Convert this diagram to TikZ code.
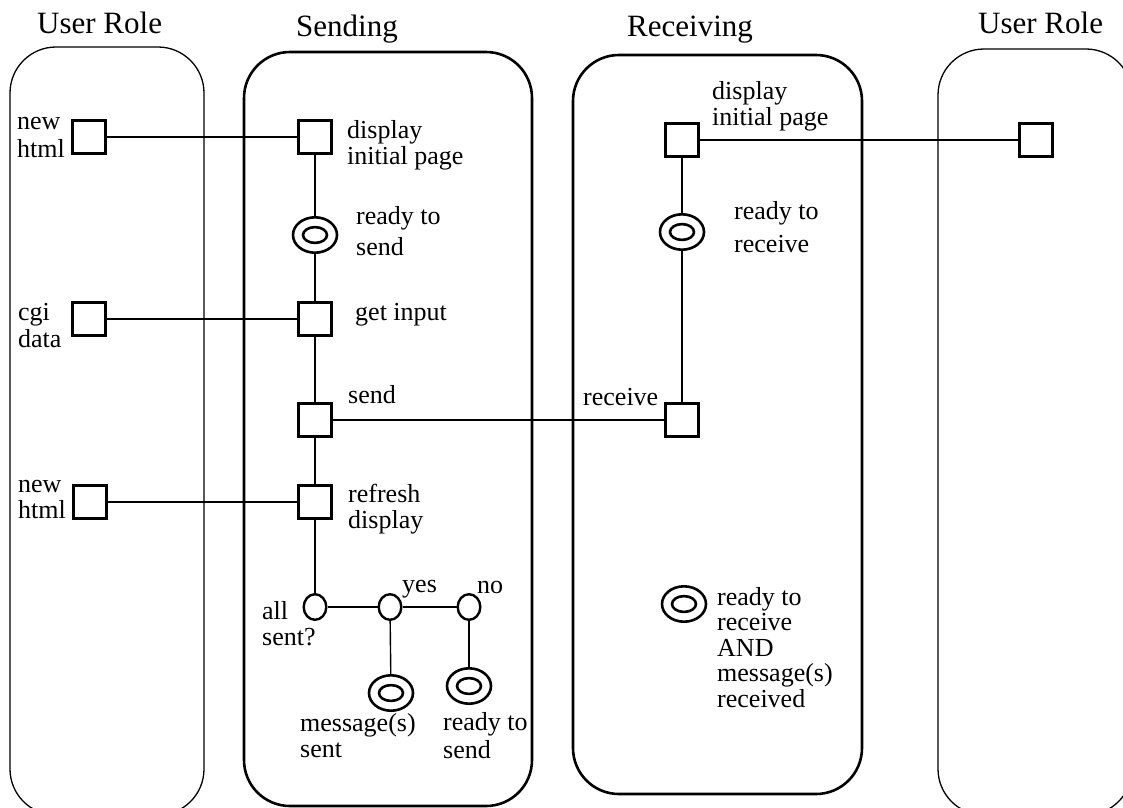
\documentclass[tikz,border=0pt]{standalone}
\usepackage{fontspec}
\setmainfont{Liberation Serif}
\usetikzlibrary{shapes.geometric}
\begin{document}
\begin{tikzpicture}[x=1pt,y=-1pt,
  lane/.style={rounded corners=46pt, line width=1.3pt},
  mainlane/.style={rounded corners=46pt, line width=2.6pt},
  box/.style={draw, rectangle, line width=2.6pt, minimum width=33pt, minimum height=33pt, inner sep=0pt},
  dec/.style={draw, ellipse, line width=2.4pt, minimum width=22.6pt, minimum height=25.6pt, inner sep=0pt},
  st/.style={draw, ellipse, line width=2.6pt, minimum width=44pt, minimum height=35.4pt, inner sep=0pt},
  stin/.style={line width=2.6pt},
  conn/.style={line width=1.4pt},
  bigconn/.style={line width=2.6pt},
  lbl/.style={anchor=base west, inner sep=0pt, align=left, font=\fontsize{26}{25.5}\selectfont},
  ttl/.style={anchor=base west, inner sep=0pt, font=\fontsize{31}{33}\selectfont},
]
\useasboundingbox (0,0) rectangle (1123,807);
\clip (0,0) rectangle (1123,807);

% lanes
\draw[lane] (10,47) rectangle (204,815);
\draw[mainlane] (244,52) rectangle (532,806);
\draw[mainlane] (573,55) rectangle (862,794);
\draw[lane] (938,49) rectangle (1132,815);

% titles
\node[ttl] (t1) at (37,33) {User Role};
\node[ttl] (t2) at (296,36) {Sending};
\node[ttl] (t3) at (627,36) {Receiving};
\node[ttl] (t4) at (978,33) {User Role};

% left user role
\node[box] (uL1) at (89,137) {};
\node[box] (uL2) at (89,319) {};
\node[box] (uL3) at (90,502) {};

% sending
\node[box] (s1) at (315,137) {};
\node[st]  (c1) at (315,235) {};
\node[box] (s2) at (315,319) {};
\node[box] (s3) at (315,420) {};
\node[box] (s4) at (315,502) {};
\node[dec] (d1) at (315,607) {};
\node[dec] (d2) at (390,607) {};
\node[dec] (d3) at (469,607) {};
\node[st]  (c2) at (391,693) {};
\node[st]  (c3) at (469,686) {};

% receiving
\node[box] (r1) at (682,140) {};
\node[st]  (c4) at (682,232) {};
\node[box] (r2) at (682,420) {};
\node[st]  (c5) at (684,604) {};

% right user role
\node[box] (uR) at (1036,140) {};

% inner rings of states
\foreach \n in {c1,c2,c3,c4,c5}
  \draw[stin] (\n.center) ellipse [x radius=12pt, y radius=7.9pt];

% connectors
\draw[conn] (uL1) -- (s1);
\draw[conn] (uL2) -- (s2);
\draw[conn] (uL3) -- (s4);
\draw[conn] (s1) -- (c1) -- (s2) -- (s3) -- (s4) -- (d1);
\draw[conn] (d1) -- (d2) -- (d3);
\draw[conn] (d2) -- (c2);
\draw[conn] (d3) -- (c3);
\draw[bigconn] (s3) -- (r2);
\draw[conn] (r1) -- (c4) -- (r2);
\draw[conn] (r1) -- (uR);

% labels (anchored at the baseline of their last line)
\node[lbl] (nL1) at (17,157) {new\\[2pt]html};
\node[lbl] (nL2) at (18,347) {cgi\\[1pt]data};
\node[lbl] (nL3) at (18,518) {new\\html};
\node[lbl] (ls1) at (347,164) {display\\initial page};
\node[lbl] (lc1) at (356,255) {ready to\\[5pt]send};
\node[lbl] (ls2) at (355,320) {get input};
\node[lbl] (ls3) at (348,403) {send};
\node[lbl] (ls4) at (348,528) {refresh\\display};
\node[lbl] (ld1) at (262,645) {all\\sent?};
\node[lbl] (ld2) at (402,592) {yes};
\node[lbl] (ld3) at (477,593) {no};
\node[lbl] (lc2) at (300,757) {message(s)\\sent};
\node[lbl] (lc3) at (443,758) {ready to\\[2pt]send};
\node[lbl] (lr1) at (712,125) {display\\initial page};
\node[lbl] (lc4) at (734,252) {ready to\\[7pt]receive};
\node[lbl] (lr2) at (583,405) {receive};
\node[lbl] (lc5) at (717,707) {ready to\\receive\\AND\\message(s)\\received};
\end{tikzpicture}
\end{document}
